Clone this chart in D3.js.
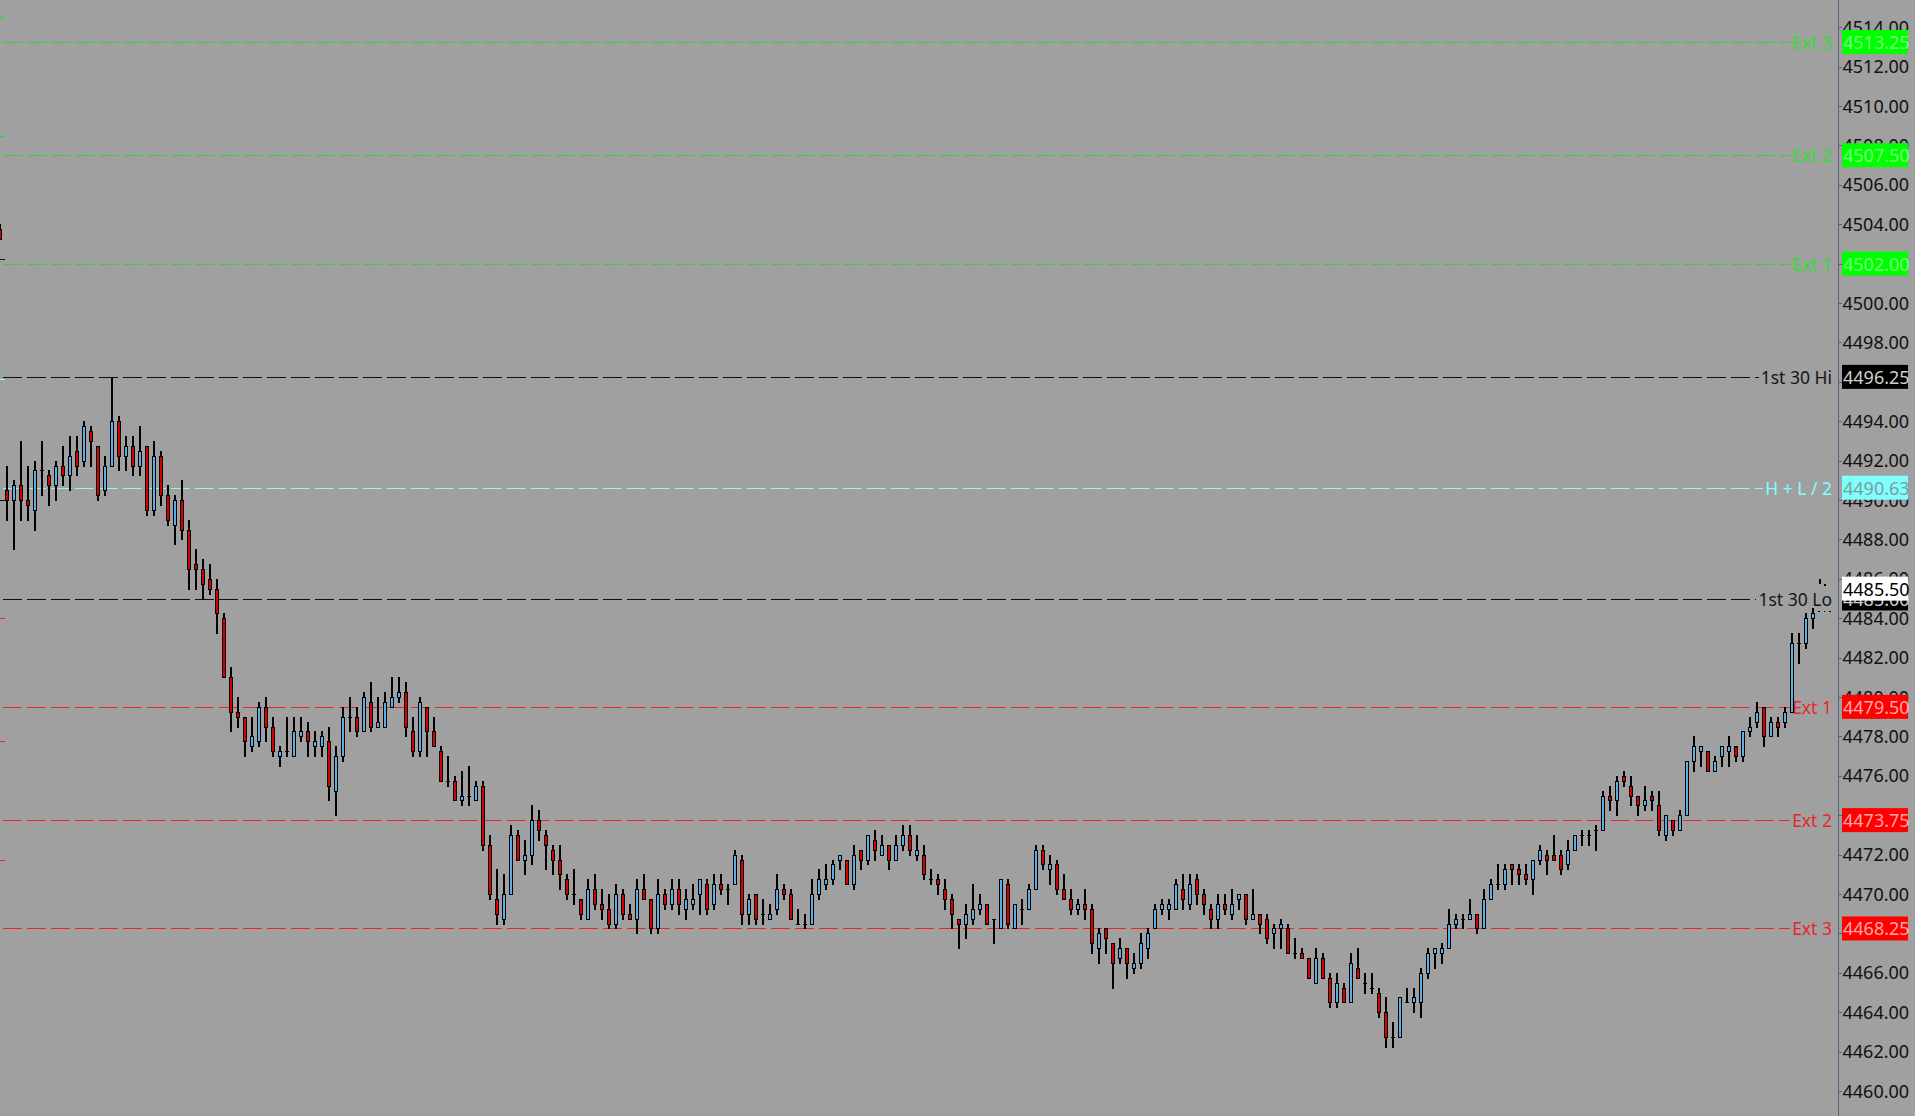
<!DOCTYPE html>
<html><head><meta charset="utf-8">
<script src="https://cdn.jsdelivr.net/npm/d3@7"></script>
<style>
html,body{margin:0;padding:0;background:#a0a0a0;overflow:hidden}
svg{display:block}
text{font-family:"Noto Sans","Open Sans",sans-serif}
</style></head><body>
<svg id="chart" width="1915" height="1116"></svg>
<script>
// ---- DATA (1-minute bars, first bar is the last bar of the previous view, partly off-screen) ----
const opens = [4503.75,
4490.5,4490.0,4490.75,4490.0,4489.5,4491.5,4491.25,4490.75,4491.75,4491.25,
4492.5,4492.0,4493.5,4492.75,4490.5,4491.75,4494.0,4492.25,4492.75,4491.75,
4492.75,4489.5,4492.25,4490.25,4488.75,4490.0,4488.5,4486.75,4486.5,4486.0,
4485.5,4484.0,4481.0,4479.25,4479.0,4477.5,4477.75,4479.5,4478.5,4477.0,
4477.25,4477.0,4478.0,4478.25,4477.5,4477.5,4477.75,4475.25,4477.0,4479.0,
4479.0,4478.25,4479.75,4478.5,4478.5,4479.5,4480.0,4480.25,4478.25,4477.25,
4479.5,4478.25,4477.25,4475.75,4475.75,4474.75,4475.0,4474.75,4475.5,4472.5,
4469.75,4468.75,4470.0,4473.0,4471.75,4472.0,4473.75,4473.0,4472.25,4471.75,
4470.75,4470.0,4469.75,4468.75,4470.25,4469.5,4469.25,4468.5,4470.0,4469.0,
4468.75,4470.25,4469.75,4468.25,4470.0,4469.5,4470.25,4469.25,4469.5,4470.0,
4470.5,4469.5,4470.5,4470.25,4470.5,4471.75,4469.0,4470.0,4469.0,4468.75,
4469.25,4470.25,4470.0,4468.5,4468.5,4468.5,4470.0,4470.5,4470.75,4471.75,
4471.75,4470.5,4472.25,4471.75,4472.75,4472.0,4472.5,4471.75,4472.5,4473.0,
4472.0,4472.0,4470.75,4470.75,4470.25,4469.75,4468.75,4468.5,4468.75,4469.25,
4469.5,4468.75,4468.25,4470.5,4468.25,4469.25,4469.25,4470.25,4472.25,4471.25,
4471.5,4470.25,4469.75,4469.25,4469.5,4469.25,4467.25,4468.25,4467.5,4466.75,
4467.25,4466.25,4466.5,4467.25,4468.25,4469.25,4469.25,4469.25,4470.25,4469.5,
4470.75,4470.0,4469.25,4468.75,4469.5,4469.0,4469.75,4470.0,4468.75,4469.0,
4468.75,4468.0,4468.25,4468.25,4467.0,4467.0,4466.75,4465.5,4466.75,4465.75,
4464.5,4465.25,4464.5,4466.25,4465.5,4465.25,4465.0,4464.0,4462.75,4462.75,
4464.5,4464.5,4464.5,4466.0,4467.0,4467.0,4467.25,4468.5,4468.75,4468.75,
4469.0,4468.25,4469.75,4470.5,4470.5,4471.5,4471.25,4471.0,4470.75,4471.75,
4472.0,4472.0,4472.0,4471.5,4472.25,4473.0,4473.0,4473.25,4473.25,4475.0,
4474.75,4476.0,4475.5,4475.0,4474.5,4475.0,4474.5,4473.0,4473.75,4473.25,
4474.0,4476.75,4477.25,4477.25,4476.25,4477.0,4477.25,4477.5,4477.0,4478.25,
4478.75,4479.5,4478.0,4478.75,4478.75,4479.25,4482.75,4482.75,4484.0];

const highs = [4504.0,
4491.75,4491.0,4493.0,4491.75,4492.0,4493.0,4491.5,4492.0,4492.75,4493.25,
4493.25,4494.0,4493.75,4492.75,4492.25,4496.25,4494.25,4493.25,4493.25,4493.75,
4492.75,4493.0,4492.5,4490.75,4490.25,4491.0,4489.0,4487.5,4487.0,4486.75,
4486.0,4484.25,4481.5,4480.0,4479.0,4479.0,4479.75,4480.0,4479.0,4477.5,
4479.0,4479.0,4479.0,4478.75,4478.25,4478.25,4478.5,4477.5,4479.5,4480.0,
4479.5,4480.25,4480.75,4480.0,4480.25,4481.0,4481.0,4480.75,4479.0,4480.0,
4479.5,4479.0,4477.5,4477.0,4476.0,4476.25,4476.5,4475.75,4475.75,4473.0,
4471.25,4471.0,4473.5,4473.25,4472.75,4474.5,4474.25,4473.25,4472.5,4472.5,
4471.0,4471.25,4469.75,4470.75,4471.0,4470.25,4470.0,4470.5,4470.25,4469.5,
4470.75,4471.0,4469.75,4470.75,4470.25,4470.75,4470.75,4470.25,4470.5,4470.75,
4470.75,4471.0,4471.0,4470.5,4472.25,4472.0,4470.0,4470.0,4469.75,4469.5,
4471.0,4470.5,4470.25,4469.25,4469.0,4470.75,4471.25,4471.5,4471.75,4472.0,
4471.75,4472.5,4472.25,4473.0,4473.25,4473.0,4472.5,4473.0,4473.5,4473.5,
4473.0,4472.5,4471.25,4471.0,4470.75,4470.0,4468.75,4469.5,4470.5,4470.0,
4469.5,4468.75,4470.75,4470.75,4469.5,4469.75,4470.5,4472.5,4472.5,4472.0,
4471.75,4471.0,4470.25,4469.75,4470.25,4469.5,4468.25,4468.25,4467.5,4467.75,
4467.25,4467.0,4468.0,4468.25,4469.5,4469.75,4469.75,4470.75,4471.0,4471.0,
4471.0,4470.25,4469.5,4470.0,4470.0,4470.25,4470.0,4470.0,4470.25,4469.0,
4469.0,4468.5,4468.75,4468.5,4467.75,4467.25,4466.75,4467.25,4467.0,4466.0,
4466.0,4465.5,4467.0,4467.25,4466.0,4466.0,4465.25,4464.75,4463.5,4464.75,
4465.25,4465.25,4466.25,4467.25,4467.25,4467.5,4469.25,4469.0,4469.0,4469.75,
4469.0,4470.25,4470.75,4471.5,4471.5,4471.5,4471.5,4471.5,4471.75,4472.5,
4472.25,4473.0,4472.25,4472.75,4473.0,4473.25,4473.25,4473.5,4475.25,4475.5,
4476.0,4476.25,4476.0,4475.0,4475.5,4475.25,4475.25,4474.0,4473.75,4474.25,
4476.75,4478.0,4477.5,4477.25,4477.0,4477.5,4478.0,4477.5,4478.25,4479.0,
4479.75,4479.5,4479.0,4479.0,4479.5,4483.25,4483.25,4484.25,4484.5];

const lows = [4503.25,
4489.0,4487.5,4489.0,4489.0,4488.5,4490.25,4489.75,4490.0,4490.75,4490.5,
4491.25,4491.75,4491.75,4490.0,4490.25,4491.75,4491.5,4491.5,4491.25,4491.25,
4489.25,4489.25,4489.75,4488.75,4487.75,4488.0,4485.5,4485.5,4485.0,4485.25,
4483.25,4481.0,4478.25,4478.5,4477.0,4477.25,4477.5,4477.75,4477.0,4476.5,
4477.0,4477.0,4477.75,4477.0,4477.0,4477.0,4474.75,4474.0,4476.75,4478.25,
4478.0,4478.25,4478.25,4478.5,4478.5,4479.5,4479.75,4478.0,4477.0,4477.0,
4477.0,4477.5,4475.75,4475.5,4474.75,4474.5,4474.5,4474.75,4472.25,4469.75,
4468.5,4468.5,4470.0,4471.75,4471.0,4471.5,4472.75,4471.25,4471.0,4470.25,
4469.75,4469.5,4468.75,4468.75,4469.25,4468.75,4468.25,4468.25,4468.75,4468.75,
4468.0,4469.75,4468.0,4468.0,4469.25,4469.25,4469.0,4468.75,4469.25,4469.0,
4469.0,4469.25,4470.0,4469.5,4470.5,4468.5,4468.5,4468.5,4468.5,4468.75,
4469.0,4469.75,4468.75,4468.5,4468.25,4468.5,4469.75,4470.25,4470.5,4471.25,
4470.5,4470.25,4471.25,4471.5,4471.75,4472.0,4471.25,4471.75,4472.25,4472.0,
4471.75,4470.75,4470.5,4470.0,4469.25,4468.25,4467.25,4467.75,4468.5,4469.0,
4468.5,4467.5,4468.25,4468.25,4468.25,4468.5,4469.25,4470.25,4471.25,4470.5,
4470.0,4469.75,4469.0,4469.0,4468.75,4467.0,4466.5,4467.0,4465.25,4466.5,
4465.75,4466.0,4466.25,4466.75,4468.25,4469.0,4468.75,4469.25,4469.25,4469.25,
4469.5,4469.0,4468.25,4468.25,4469.0,4468.75,4469.25,4468.5,4468.75,4468.0,
4467.5,4467.25,4467.25,4467.0,4466.75,4466.75,4465.75,4465.5,4465.75,4464.25,
4464.25,4464.5,4464.5,4465.75,4465.0,4465.0,4463.75,4462.25,4462.25,4462.75,
4464.5,4464.0,4463.75,4465.75,4466.25,4466.5,4467.25,4468.25,4468.25,4468.75,
4468.0,4468.25,4469.75,4470.25,4470.25,4470.5,4470.5,4470.5,4470.0,4471.5,
4471.0,4471.75,4471.0,4471.25,4472.25,4472.5,4472.5,4472.25,4473.25,4474.25,
4474.0,4475.5,4474.5,4474.0,4474.25,4474.25,4473.0,4472.75,4473.0,4473.25,
4474.0,4476.25,4476.5,4476.25,4476.25,4476.5,4476.5,4476.75,4476.75,4478.0,
4478.5,4477.5,4478.0,4478.0,4478.5,4479.25,4481.75,4482.5,4483.5];

const closes = [4503.25,
4490.0,4490.75,4490.0,4489.75,4491.5,4491.5,4490.75,4491.75,4491.25,4492.25,
4491.75,4493.75,4493.0,4490.25,4491.75,4494.0,4492.25,4492.75,4491.75,4492.5,
4489.5,4492.25,4490.25,4489.0,4490.0,4488.5,4486.5,4486.5,4485.75,4485.5,
4484.25,4481.0,4479.25,4479.0,4477.75,4478.0,4479.5,4478.5,4477.25,4477.25,
4477.25,4478.25,4478.25,4477.75,4477.75,4478.0,4475.5,4477.0,4479.0,4479.0,
4478.25,4480.0,4478.5,4478.75,4479.75,4480.0,4480.25,4478.5,4477.25,4479.75,
4478.25,4477.5,4475.75,4475.75,4474.75,4475.0,4475.0,4475.5,4472.5,4470.0,
4469.0,4470.0,4473.0,4471.75,4472.0,4473.75,4473.25,4472.5,4471.75,4471.0,
4470.0,4470.0,4469.0,4470.25,4469.5,4469.25,4468.5,4470.0,4469.0,4468.75,
4470.25,4469.75,4468.25,4470.0,4469.5,4470.25,4469.5,4469.75,4469.75,4470.75,
4469.25,4470.5,4470.25,4470.25,4472.0,4469.0,4469.75,4468.75,4469.0,4469.0,
4470.25,4470.0,4468.75,4468.5,4468.5,4470.0,4470.75,4470.75,4471.5,4472.0,
4470.5,4472.0,4471.75,4473.0,4472.25,4472.5,4471.75,4472.5,4473.0,4472.25,
4472.25,4471.0,4470.75,4470.5,4469.75,4469.0,4468.5,4469.0,4469.25,4469.5,
4468.5,4468.75,4470.75,4468.5,4469.5,4469.25,4470.25,4472.25,4471.5,4471.5,
4470.25,4469.75,4469.25,4469.5,4469.25,4467.5,4468.0,4467.75,4466.5,4467.25,
4466.5,4466.5,4467.5,4468.0,4469.25,4469.5,4469.5,4470.5,4469.75,4470.5,
4470.0,4469.5,4468.75,4469.5,4469.25,4469.5,4470.0,4468.75,4469.0,4468.5,
4467.75,4468.25,4468.5,4467.0,4467.0,4466.75,4465.75,4466.75,4465.75,4464.5,
4465.5,4464.5,4466.5,4465.75,4465.5,4465.25,4464.0,4462.75,4462.75,4464.75,
4464.5,4464.75,4466.0,4467.0,4467.25,4467.25,4468.5,4468.75,4468.75,4469.0,
4468.25,4469.75,4470.5,4470.5,4471.25,4471.25,4471.0,4470.75,4471.75,4472.25,
4471.75,4471.75,4471.25,4472.25,4473.0,4473.0,4473.0,4473.25,4475.0,4474.75,
4475.75,4475.75,4475.0,4474.5,4474.75,4474.75,4473.25,4474.0,4473.25,4474.0,
4476.75,4477.5,4477.5,4476.25,4476.75,4477.5,4477.5,4477.0,4478.25,4478.5,
4479.25,4478.0,4478.75,4478.5,4479.25,4482.75,4482.75,4484.0,4484.25];

// forming bar (only partly painted)
const formingHigh = 4486.0, formingLow = 4485.75, formingOpen = 4484.375;
const lastPrice = 4485.50;

// session levels
const levelNames  = ["Ext 3","Ext 2","Ext 1","1st 30 Hi","H + L / 2","1st 30 Lo","Ext 1","Ext 2","Ext 3"];
const levelValues = [4513.25,4507.50,4502.00,4496.25,4490.625,4485.00,4479.50,4473.75,4468.25];
const levelKinds  = ["up","up","up","range","mid","range","down","down","down"];

// previous-session levels (only their last pixels are visible at the left edge)
const prevLevelValues = [4514.5,4508.5,4502.25,4496.125,4490.0,4484.0,4477.75,4471.75];
const prevLevelKinds  = ["up","up","range","mid","range","down","down","down"];

// price axis ticks
const tickValues = d3.range(4460, 4515, 2);

// ---- STYLE ----
const kindStyle = {
  up:    {line:"#2fd62f", text:"#33dd33", box:"#00ff00", boxText:"#78ff78"},
  range: {line:"#111111", text:"#161616", box:"#000000", boxText:"#cfcfcf"},
  mid:   {line:"#80ffff", text:"#80ffff", box:"#80ffff", boxText:"#7a9e9e"},
  down:  {line:"#e8262a", text:"#e8262a", box:"#ff0000", boxText:"#ffa8a8"}
};
const BG = "#a0a0a0", UP = "#5aaee6", DOWN = "#d40000";
const FONT = 18, LABEL_FONT = 17.5;

const W = 1915, H = 1116, axisX = 1838.5;
const svg = d3.select("#chart");
svg.append("rect").attr("width", W).attr("height", H).attr("fill", BG);

const x = d3.scaleLinear().domain([0, 1]).range([-0.3, 6.7]);
const y = d3.scaleLinear().domain([4460, 4514]).range([1091, 27.2]);

svg.append("defs").append("clipPath").attr("id","plotclip")
  .append("rect").attr("x",0).attr("y",0).attr("width",axisX-0.5).attr("height",H);
const plot = svg.append("g").attr("clip-path","url(#plotclip)");

// previous session level stubs
plot.append("g").selectAll("line").data(prevLevelValues).join("line")
  .attr("x1", 0).attr("x2", x(0.5) + 1.5)
  .attr("y1", d => Math.round(y(d)) + 0.5).attr("y2", d => Math.round(y(d)) + 0.5)
  .attr("stroke", (d,i) => kindStyle[prevLevelKinds[i]].line).attr("stroke-width", 1)
  .attr("shape-rendering","crispEdges");

// session level lines + labels
const lvl = plot.append("g");
levelValues.forEach((v, i) => {
  const st = kindStyle[levelKinds[i]];
  const yy = Math.round(y(v)) + 0.5;
  const t = lvl.append("text").attr("x", 1832).attr("y", y(v))
    .attr("text-anchor","end").attr("dominant-baseline","central")
    .attr("font-size", LABEL_FONT).attr("fill", st.text).text(levelNames[i]);
  const tw = t.node().getComputedTextLength();
  lvl.insert("line","text").attr("x1", x(0.5)).attr("x2", 1832 - tw - 2)
    .attr("y1", yy).attr("y2", yy).attr("stroke", st.line).attr("stroke-width", 1)
    .attr("stroke-dasharray","19,5").attr("shape-rendering","crispEdges");
});

// candles
const idx = d3.range(opens.length);
const cg = plot.append("g").attr("shape-rendering","crispEdges");
idx.forEach(k => {
  const o = opens[k], h = highs[k], l = lows[k], c = closes[k];
  const cx = Math.round(x(k) - 1);
  const yh = Math.round(y(h)), yl = Math.round(y(l));
  cg.append("rect").attr("x", cx).attr("y", yh).attr("width", 2).attr("height", Math.max(1, yl - yh + 1)).attr("fill", "#000");
  if (o === c) {
    cg.append("rect").attr("x", cx - 1).attr("y", Math.round(y(o))).attr("width", 4).attr("height", 1).attr("fill", "#000");
  } else {
    const yt = Math.round(y(Math.max(o, c))), yb = Math.round(y(Math.min(o, c)));
    cg.append("rect").attr("x", cx - 1).attr("y", yt).attr("width", 4).attr("height", yb - yt + 1).attr("fill", "#000");
    if (yb - yt >= 2)
      cg.append("rect").attr("x", cx).attr("y", yt + 1).attr("width", 2).attr("height", yb - yt - 1).attr("fill", c > o ? UP : DOWN);
  }
});
// forming bar marks
{
  const k = opens.length;
  const cx = Math.round(x(k) - 1);
  cg.append("rect").attr("x", cx).attr("y", Math.round(y(formingHigh))).attr("width", 1.5)
    .attr("height", Math.round(y(formingLow)) - Math.round(y(formingHigh))).attr("fill", "#000");
  cg.append("rect").attr("x", cx + 5).attr("y", Math.round(y(formingLow))).attr("width", 1.5).attr("height", 1.5).attr("fill", "#000");
  cg.append("line").attr("x1", x(k - 0.2)).attr("x2", x(k + 1.6))
    .attr("y1", Math.round(y(formingOpen)) + 0.5).attr("y2", Math.round(y(formingOpen)) + 0.5)
    .attr("stroke", "#000").attr("stroke-dasharray", "1.5,4");
}

// price axis
svg.append("line").attr("x1", axisX).attr("x2", axisX).attr("y1", 0).attr("y2", H)
  .attr("stroke", "#56657d").attr("stroke-width", 1).attr("shape-rendering","crispEdges");
const axis = d3.axisRight(y).tickValues(tickValues).tickFormat(d3.format(".2f"))
  .tickSize(3).tickPadding(1);
const ag = svg.append("g").attr("transform", `translate(${axisX},0)`).call(axis);
ag.select(".domain").remove();
ag.selectAll(".tick line").attr("stroke", "#56657d").attr("shape-rendering","crispEdges");
// labels fully covered by a price box are not painted (as in the platform)
const boxValues = levelValues.concat([lastPrice]);
ag.selectAll(".tick text").attr("font-size", FONT).attr("fill", "#111")
  .attr("font-family", '"Noto Sans","Open Sans",sans-serif').attr("dy", "0.34em")
  .attr("display", d => boxValues.some(b => Math.abs(y(b) - y(d)) < 6) ? "none" : null);

// price boxes
function priceBox(v, fill, txt, label) {
  const g = svg.append("g");
  g.append("rect").attr("x", 1842).attr("y", y(v) - 12).attr("width", 66).attr("height", 24).attr("fill", fill);
  g.append("text").attr("x", 1843).attr("y", y(v)).attr("dominant-baseline","central")
    .attr("font-size", FONT).attr("fill", txt).text(label);
}
levelValues.forEach((v, i) => {
  const st = kindStyle[levelKinds[i]];
  priceBox(v, st.box, st.boxText, d3.format(".2f")(v));
});
priceBox(lastPrice, "#ffffff", "#000000", d3.format(".2f")(lastPrice));
</script>
</body></html>
